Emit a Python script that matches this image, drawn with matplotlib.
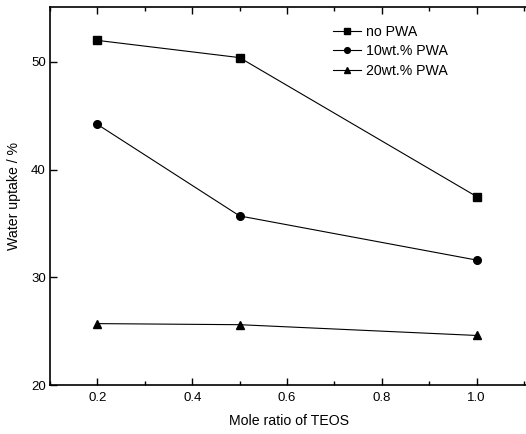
import matplotlib
matplotlib.use("Agg")
import matplotlib.pyplot as plt
from matplotlib.ticker import MultipleLocator

plt.rcParams['font.family'] = ['Liberation Sans', 'DejaVu Sans']

x = [0.2, 0.5, 1.0]
no_pwa = [52.0, 50.4, 37.5]
pwa10 = [44.2, 35.7, 31.6]
pwa20 = [25.7, 25.6, 24.6]
labels = ["no PWA", "10wt.% PWA", "20wt.% PWA"]
xticks = [0.2, 0.4, 0.6, 0.8, 1.0]
yticks = [20, 30, 40, 50]

fig = plt.figure(figsize=(5.26, 4.34), dpi=100)
ax = fig.add_axes([50/526, 49/434, 478/526, 378/434])

for ys, m, lab in zip([no_pwa, pwa10, pwa20], ['s', 'o', '^'], labels):
    ax.plot(x, ys, color='black', lw=0.8, marker=m, markersize=5.5, label=lab)

ax.set_xlim(0.1, 0.1 + 478/474*1.0)
ax.set_ylim(20, 55.1)
ax.set_xticks(xticks)
ax.set_xticklabels([f"{v:.1f}" for v in xticks])
ax.set_yticks(yticks)
ax.xaxis.set_minor_locator(MultipleLocator(0.1))
ax.tick_params(axis='both', which='major', direction='in', length=5, width=1, labelsize=9.5, pad=5,
               top=True, right=False)
ax.tick_params(axis='x', which='minor', direction='in', length=3, width=1, top=True)
ax.tick_params(axis='y', which='major', pad=3)
for s in ['left', 'bottom', 'top']:
    ax.spines[s].set_linewidth(1.2)
ax.spines['right'].set_visible(False)

ax.set_xlabel("Mole ratio of TEOS", fontsize=10.2, labelpad=7)
ax.set_ylabel("Water uptake / %", fontsize=10.2, labelpad=7)

leg = ax.legend(loc='upper left', bbox_to_anchor=(333/526, 1 - 25/434), bbox_transform=fig.transFigure,
                frameon=False, fontsize=10.2, handlelength=2.0, handletextpad=0.3,
                labelspacing=0.38, borderpad=0, borderaxespad=0, markerscale=0.75)

fig.savefig("out.png", dpi=100)
